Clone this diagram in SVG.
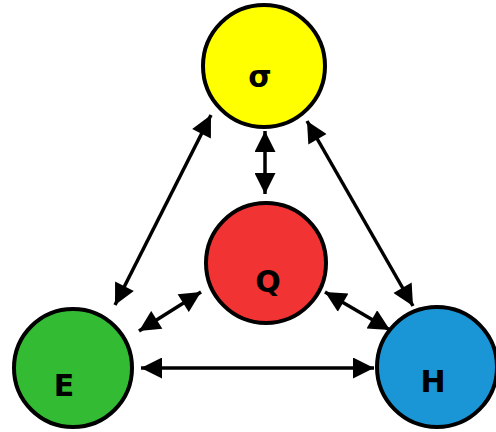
<svg xmlns="http://www.w3.org/2000/svg" width="496" height="432" viewBox="0 0 496 432">
<style>
.node circle{stroke:#000;stroke-width:4}
.node text{font-family:"DejaVu Sans",sans-serif;font-size:30px;font-weight:bold;fill:#000;text-anchor:middle}
.edge{stroke:#000;stroke-width:3.5;fill:none;marker-start:url(#ah);marker-end:url(#ah)}
</style>
<defs>
<marker id="ah" viewBox="0 0 10 10" refX="10" refY="5" markerWidth="6.5" markerHeight="6" orient="auto-start-reverse" markerUnits="strokeWidth">
<path d="M0,0 L10,5 L0,10 z" fill="#000"/>
</marker>
</defs>
<rect width="496" height="432" fill="#fff"/>
<g id="connectors">
<line class="edge" x1="115" y1="305" x2="211" y2="115"/>
<line class="edge" x1="307" y1="121" x2="413" y2="306"/>
<line class="edge" x1="265" y1="131" x2="265" y2="194"/>
<line class="edge" x1="139" y1="331" x2="201" y2="292"/>
<line class="edge" x1="325" y1="292" x2="390" y2="330"/>
<line class="edge" x1="141" y1="368" x2="374" y2="368"/>
</g>
<g id="sigma" class="node"><circle cx="264" cy="66" r="61" fill="#ffff00"/><text x="260" y="87">σ</text></g>
<g id="Q" class="node"><circle cx="266" cy="263" r="60" fill="#f23333"/><text x="268" y="292">Q</text></g>
<g id="E" class="node"><circle cx="73" cy="368" r="59" fill="#33bb33"/><text x="64" y="396">E</text></g>
<g id="H" class="node"><circle cx="437" cy="367" r="60" fill="#1a96d6"/><text x="433" y="392">H</text></g>
</svg>
